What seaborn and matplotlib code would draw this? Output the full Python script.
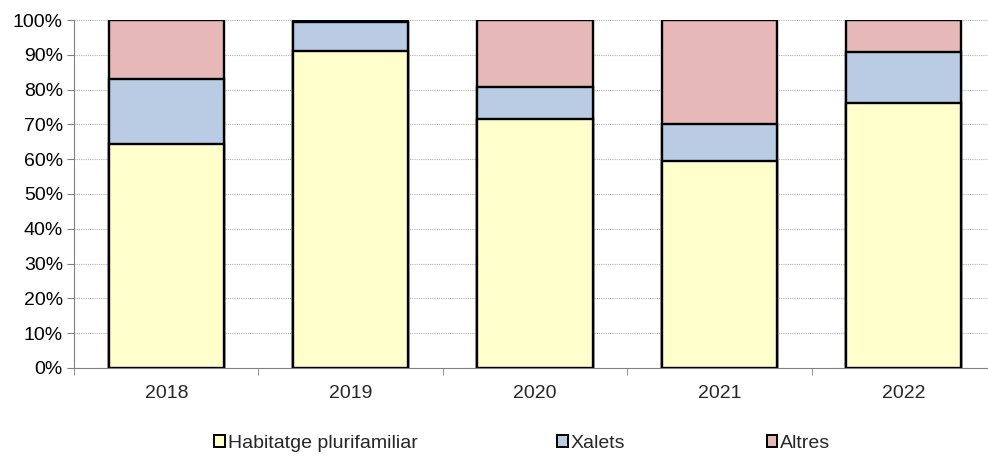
import pandas as pd
import seaborn as sns
import matplotlib.pyplot as plt
from matplotlib.patches import Patch
from matplotlib.ticker import PercentFormatter

anys = ["2018", "2019", "2020", "2021", "2022"]
plurifamiliar = [64.5, 91.0, 71.5, 59.5, 76.2]
xalets = [18.5, 8.4, 9.3, 10.7, 14.5]
altres = [17.0, 0.6, 19.2, 29.8, 9.3]

colors = {"Habitatge plurifamiliar": "#ffffcc", "Xalets": "#b9cce4", "Altres": "#e6b8b7"}

df = pd.DataFrame({"Any": anys, "Habitatge plurifamiliar": plurifamiliar,
                   "Xalets": xalets, "Altres": altres})
# alçades acumulades per apilar les barres
df["c1"] = df["Habitatge plurifamiliar"]
df["c2"] = df["c1"] + df["Xalets"]
df["c3"] = df["c2"] + df["Altres"]

sns.set_style("white")
plt.rcParams['font.family'] = ['Liberation Sans', 'DejaVu Sans']

fig, ax = plt.subplots(figsize=(9.88, 4.57), dpi=100)
fig.subplots_adjust(left=0.075, right=1.008, bottom=0.195, top=0.956)

for col, nom in [("c3", "Altres"), ("c2", "Xalets"), ("c1", "Habitatge plurifamiliar")]:
    sns.barplot(data=df, x="Any", y=col, color=colors[nom], saturation=1,
                edgecolor="black", linewidth=1.7, width=0.626, ax=ax, zorder=3)

ax.set_ylim(0, 100)
ax.set_xlim(-0.5, 4.5)
ax.yaxis.set_major_locator(plt.MultipleLocator(10))
ax.yaxis.set_major_formatter(PercentFormatter(decimals=0))
ax.grid(axis="y", color="#b0b0b0", linestyle=(0, (1, 1)), linewidth=0.8, zorder=0)
ax.set_xlabel("")
ax.set_ylabel("")
for s in ["top", "right"]:
    ax.spines[s].set_visible(False)
ax.spines["left"].set_color("#808080")
ax.spines["bottom"].set_color("#808080")
ax.tick_params(axis="y", labelsize=14, labelcolor="black", color="#808080",
               length=5, direction="out", left=True, pad=3)
ax.set_xticks([-0.5, 0.5, 1.5, 2.5, 3.5, 4.5], minor=True)
ax.tick_params(axis="x", which="major", length=0, labelsize=14, pad=12)
ax.tick_params(axis="x", which="minor", length=5, color="#808080", bottom=True)

# llegenda: tres entrades col·locades com a l'original
noms = ["Habitatge plurifamiliar", "Xalets", "Altres"]
posx = [0.217, 0.564, 0.776]
for n, x in zip(noms, posx):
    h = Patch(facecolor=colors[n], edgecolor="black", linewidth=1.4, label=n)
    fig.legend(handles=[h], loc="center left", bbox_to_anchor=(x, 0.03),
               frameon=False, fontsize=14, handlelength=0.55, handleheight=0.55,
               handletextpad=0.15, borderpad=0, borderaxespad=0)

plt.savefig("out.png", dpi=100)
